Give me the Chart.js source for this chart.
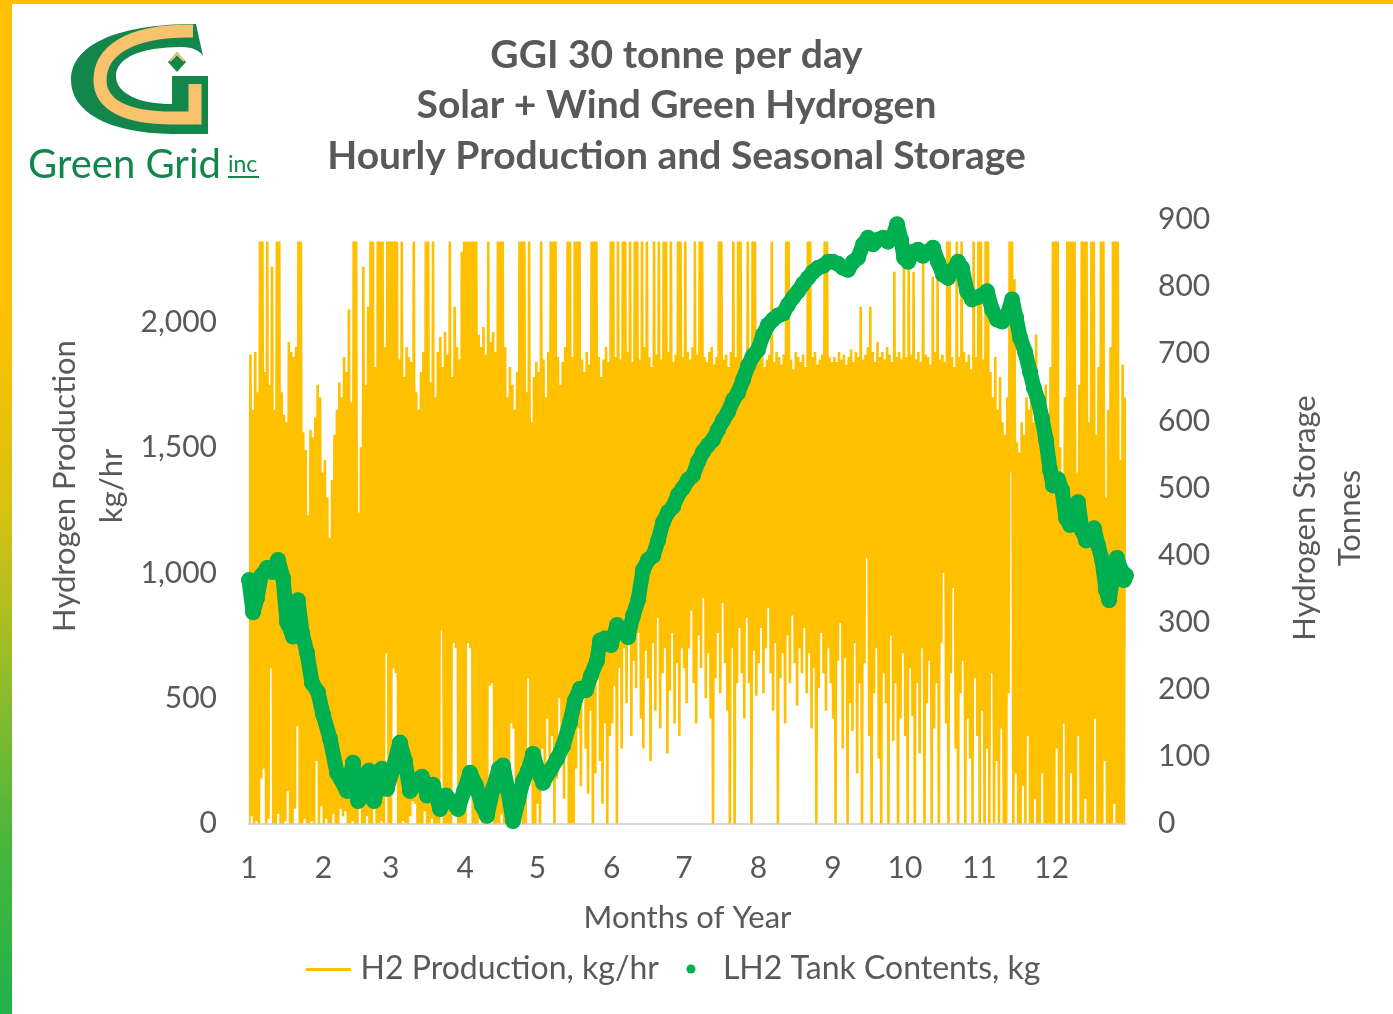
<!DOCTYPE html>
<html>
<head>
<meta charset="utf-8">
<title>GGI 30 tonne per day</title>
<script src="https://cdn.jsdelivr.net/npm/chart.js@4.4.1/dist/chart.umd.min.js"></script>
<style>
  html, body { margin: 0; padding: 0; background: #fff; overflow: hidden; }
  #wrap { position: relative; width: 1393px; height: 1014px; overflow: hidden; background: #fff; }
  #chart { position: absolute; left: -40px; top: 0; }
  #logo { position: absolute; left: 0; top: 0; z-index: 2; }
  .frame-top { position: absolute; left: 0; top: 0; width: 1393px; height: 4px; background: #FFC000; z-index: 3; }
  .frame-left {
    position: absolute; left: 0; top: 0; width: 12px; height: 1014px; z-index: 3;
    background: linear-gradient(to bottom, #FFC000 0%, #FFC000 30%, #D8C210 50%, #8DBB2C 68%, #45B53C 84%, #22B24C 100%);
  }
</style>
</head>
<body>
<div id="wrap">
  <canvas id="chart" width="1433" height="1014"></canvas>

  <!-- Green Grid logo -->
  <svg id="logo" width="300" height="200" viewBox="0 0 300 200">
    <path fill="#13874B" d="M196,24 L203,56 L208,56 L208,134 L172,134 C106,133 71,111 71,80 C71,47 112,24 196,24 Z"/>
    <path fill="none" stroke="#F9C36E" stroke-width="13" d="M193,31 C128,30 100,52 100,80 C100,106 128,118 172,118 L195,118 L195,84"/>
    <path fill="#fff" d="M212,56 L212,76 L172,76 L172,104 C140,104 116,94 116,76 C116,58 140,47 182,47 C193,47 200,51 203,56 Z"/>
    <path fill="#13874B" d="M177,52 L186,62 L177,72 L168,62 Z"/>
    <path fill="none" stroke="#F9C36E" stroke-width="2" d="M170,61 L177,54 L184,61"/>
    <text x="28" y="178" font-family="Lato" font-size="40" fill="#13874B">Green Grid</text>
    <text x="228" y="172" font-family="Lato" font-size="23" fill="#13874B">inc</text>
    <rect x="228" y="176" width="31" height="2" fill="#13874B"/>
  </svg>

  <div class="frame-top"></div>
  <div class="frame-left"></div>
</div>

<script>
/* -------------------------------------------------------
   DATA
------------------------------------------------------- */

// x axis: hour of year, labelled by month number at each month start
const monthStartHours = [0, 744, 1416, 2160, 2880, 3624, 4344, 5088, 5832, 6552, 7296, 8016];
const monthLabels = ["1", "2", "3", "4", "5", "6", "7", "8", "9", "10", "11", "12"];

const productionTicks = [0, 500, 1000, 1500, 2000];   // kg/hr, left axis
const storageTicks = [0, 100, 200, 300, 400, 500, 600, 700, 800, 900];   // tonnes, right axis

// H2 production, kg/hr: daily high (midday) and daily low (night), one value per day
const dailyPeakKg = [
  // Jan
  1870, 1650, 1880, 1720, 2320, 2320, 1800, 2320, 1750, 2220, 1650, 2320, 2320, 1720, 1630, 1600,
  1920, 1880, 1860, 1900, 2320, 2320, 1560, 1490, 1230, 1570, 1540, 1620, 1750, 1700, 1400,
  // Feb
  1450, 1300, 1140, 1370, 1550, 1650, 1760, 1700, 1860, 1800, 2050, 1680, 2320, 2320,
  1240, 1500, 2220, 1750, 2060, 2320, 2320, 1820, 2320, 2320, 2320, 1900, 2320, 2320,
  // Mar
  2320, 2320, 2320, 1850, 2320, 1780, 1900, 1860, 1840, 2320, 1720, 1650, 1800, 1880, 2320, 2320,
  1760, 2320, 1700, 1880, 1940, 1820, 1960, 1870, 2320, 1780, 2060, 1900, 1850, 2280, 2320,
  // Apr
  2320, 2320, 2320, 2320, 2320, 1950, 1900, 1980, 1870, 2320, 1920, 1960, 1880, 2320, 2320,
  2320, 1900, 1700, 1820, 1750, 1650, 1800, 2320, 2320, 2320, 1720, 2320, 1600, 1780, 1840,
  // May
  1800, 2320, 1850, 1700, 1880, 2320, 2320, 2320, 1860, 1750, 1840, 1900, 2320, 2320, 1860, 2320,
  2320, 2320, 1850, 1800, 1880, 1830, 2320, 2320, 2320, 1860, 1780, 1850, 1900, 1840, 2320,
  // Jun
  2320, 1860, 2320, 1850, 2320, 2320, 1880, 2320, 1840, 2320, 2320, 1850, 2320, 1900, 2320,
  1860, 1820, 2320, 1870, 2320, 1850, 2320, 2320, 1880, 2320, 1840, 1870, 2320, 2320, 1860,
  // Jul
  2320, 1880, 1850, 1900, 2320, 1870, 2320, 2320, 1860, 1840, 1880, 1900, 1830, 1860, 2320, 2320,
  1850, 1870, 1820, 1880, 2320, 1860, 2320, 2320, 1840, 1870, 2320, 1880, 2320, 2320, 1850,
  // Aug
  1860, 1880, 1820, 1850, 1870, 2320, 1840, 1880, 1860, 1830, 1870, 2320, 2320, 1850, 1810, 1880,
  1860, 1840, 1870, 1820, 2320, 2320, 1860, 1880, 1830, 1850, 1870, 2320, 2320, 1860, 1840,
  // Sep
  1860, 1840, 1880, 1850, 1870, 1830, 1860, 1890, 1840, 1880, 1860, 2060, 1850, 1870, 1900,
  2060, 1880, 1840, 1920, 1860, 1880, 1850, 1900, 1870, 1840, 2200, 1860, 1880, 1850, 2220,
  // Oct
  1860, 2220, 1870, 2200, 1850, 1880, 1840, 2250, 1870, 1860, 1830, 2180, 1880, 2180, 1850, 1870,
  1840, 2320, 2320, 1860, 1820, 2320, 1860, 2320, 1880, 1840, 1870, 1810, 2320, 1860, 2320,
  // Nov
  2320, 1850, 2320, 2320, 1800, 1700, 1860, 1650, 1780, 1600, 1550, 1700, 2320, 2320, 2170,
  1520, 1480, 1600, 1550, 1700, 1650, 1750, 1600, 1950, 1720, 1580, 1680, 1750, 1600, 1820,
  // Dec
  2320, 2320, 2320, 1500, 1250, 1700, 2320, 2320, 2320, 2320, 1400, 1750, 2320, 2320, 2320, 1600,
  2320, 2320, 1550, 1820, 2320, 2320, 1300, 1650, 1900, 2320, 2320, 2320, 1450, 1830, 1700
];

const dailyLowKg = [
  // Jan
  0, 30, 0, 10, 0, 180, 220, 0, 20, 620, 0, 0, 40, 0, 0, 10,
  130, 0, 0, 60, 390, 0, 0, 20, 0, 0, 10, 0, 250, 0, 70,
  // Feb
  0, 20, 0, 0, 40, 0, 0, 60, 30, 50, 0, 0, 10, 0,
  0, 150, 0, 0, 30, 0, 0, 90, 0, 0, 10, 0, 680, 0,
  // Mar
  0, 620, 600, 0, 0, 10, 0, 0, 30, 90, 80, 0, 0, 0, 50, 0,
  0, 20, 0, 0, 0, 770, 0, 0, 0, 0, 720, 700, 0, 0, 0,
  // Apr
  0, 720, 700, 0, 0, 0, 20, 0, 0, 0, 550, 560, 0, 0, 0,
  40, 0, 0, 0, 400, 380, 0, 0, 10, 0, 0, 580, 300, 0, 0,
  // May
  80, 0, 300, 150, 420, 200, 350, 0, 180, 500, 260, 100, 400, 0, 0, 0,
  220, 380, 150, 560, 300, 120, 450, 0, 200, 600, 250, 80, 400, 0, 350,
  // Jun
  400, 550, 0, 620, 300, 700, 480, 820, 350, 650, 540, 760, 420, 300, 690,
  580, 250, 720, 450, 820, 380, 600, 700, 280, 530, 760, 400, 640, 350, 700,
  // Jul
  620, 480, 700, 850, 560, 400, 750, 620, 900, 500, 680, 420, 0, 580, 760, 520,
  880, 640, 450, 0, 700, 0, 560, 780, 600, 420, 820, 560, 0, 690, 510,
  // Aug
  640, 780, 520, 700, 860, 600, 450, 720, 0, 580, 680, 400, 750, 560, 830, 640,
  470, 700, 600, 780, 520, 680, 380, 620, 0, 540, 760, 600, 450, 700, 560,
  // Sep
  420, 0, 650, 800, 300, 660, 0, 480, 370, 720, 200, 560, 0, 640, 1060,
  350, 0, 520, 700, 260, 0, 600, 480, 0, 750, 330, 560, 0, 420, 680,
  // Oct
  350, 0, 620, 430, 0, 560, 280, 700, 0, 480, 650, 0, 380, 560, 0, 720,
  1000, 400, 0, 600, 940, 300, 0, 520, 650, 0, 420, 260, 0, 580, 350,
  // Nov
  0, 450, 0, 300, 0, 600, 0, 250, 0, 380, 0, 0, 520, 1400, 0,
  200, 0, 0, 150, 0, 350, 0, 0, 100, 0, 0, 200, 0, 0, 0,
  // Dec
  0, 0, 300, 0, 0, 400, 0, 0, 200, 0, 0, 350, 0, 0, 100, 0,
  0, 0, 420, 0, 0, 0, 250, 0, 0, 0, 80, 0, 0, 0, 0
];

// LH2 tank contents (tonnes, right axis)
const tankHour = [
  0, 40, 80, 120, 180, 230, 290, 340, 380, 440, 489, 529, 579, 629, 689, 739,
  809, 879, 979, 1039, 1089, 1149, 1199, 1249, 1289, 1329, 1378, 1438, 1508, 1558, 1608, 1668,
  1728, 1778, 1838, 1908, 1968, 2018, 2088, 2148, 2208, 2268, 2327, 2377, 2437, 2497, 2537, 2587,
  2637, 2687, 2737, 2787, 2837, 2887, 2937, 3007, 3077, 3137, 3206, 3256, 3306, 3366, 3416, 3476,
  3506, 3556, 3616, 3676, 3736, 3786, 3836, 3886, 3936, 3986, 4036, 4086, 4135, 4185, 4235, 4285,
  4335, 4385, 4435, 4485, 4535, 4585, 4635, 4685, 4735, 4785, 4835, 4885, 4934, 4984, 5034, 5084,
  5134, 5184, 5234, 5284, 5334, 5384, 5434, 5484, 5534, 5584, 5634, 5684, 5734, 5784, 5834, 5883,
  5933, 5983, 6033, 6083, 6133, 6183, 6233, 6283, 6333, 6383, 6433, 6473, 6513, 6543, 6583, 6633,
  6683, 6733, 6782, 6832, 6882, 6932, 6982, 7032, 7082, 7122, 7172, 7222, 7272, 7322, 7372, 7422,
  7472, 7522, 7572, 7622, 7662, 7702, 7752, 7801, 7841, 7881, 7921, 7961, 8001, 8031, 8081, 8121,
  8161, 8201, 8241, 8281, 8321, 8361, 8401, 8441, 8481, 8521, 8561, 8591, 8631, 8670, 8710, 8740,
  8760
];
const tankTonnes = [
  363, 315, 336, 369, 381, 375, 393, 366, 300, 279, 333, 285, 255, 210, 196, 163,
  127, 76, 49, 91, 34, 42, 79, 34, 57, 82, 52, 82, 121, 94, 49, 64,
  70, 42, 58, 22, 42, 34, 22, 49, 76, 57, 27, 12, 52, 82, 87, 49,
  4, 34, 64, 79, 104, 79, 61, 79, 97, 116, 151, 184, 201, 199, 221, 243,
  273, 276, 266, 296, 285, 278, 310, 333, 378, 393, 399, 422, 449, 464, 472, 490,
  500, 512, 519, 539, 554, 564, 572, 587, 601, 613, 631, 642, 661, 682, 697, 706,
  728, 743, 751, 757, 760, 773, 784, 793, 804, 813, 822, 828, 831, 837, 837, 834,
  828, 825, 837, 843, 863, 873, 863, 870, 873, 867, 876, 893, 870, 843, 837, 852,
  855, 846, 852, 858, 837, 818, 813, 825, 837, 828, 793, 781, 784, 787, 793, 766,
  751, 748, 757, 781, 754, 724, 703, 673, 649, 631, 604, 572, 527, 504, 513, 497,
  455, 445, 470, 479, 437, 422, 430, 440, 415, 393, 348, 333, 370, 396, 378, 363,
  370
];

/* -------------------------------------------------------
   BUILD POINTS
------------------------------------------------------- */

// low at night, high around midday
const productionPoints = [];
dailyPeakKg.forEach((peak, day) => {
  productionPoints.push({ x: day * 24 + 3, y: dailyLowKg[day] });
  productionPoints.push({ x: day * 24 + 14, y: peak });
});

const tankPoints = tankHour.map((h, i) => ({ x: h, y: tankTonnes[i] }));

/* -------------------------------------------------------
   LEGEND SYMBOLS (short line, small dot)
------------------------------------------------------- */

const YELLOW = "#FFC000";
const GREEN = "#00B050";
const GREY = "#595959";
const FONT = "Lato";

function legendLine() {
  const c = document.createElement("canvas");
  c.width = 45; c.height = 3;
  const g = c.getContext("2d");
  g.fillStyle = YELLOW;
  g.fillRect(0, 0, 45, 3);
  return c;
}

function legendDot() {
  const c = document.createElement("canvas");
  c.width = 10; c.height = 10;
  const g = c.getContext("2d");
  g.fillStyle = GREEN;
  g.beginPath();
  g.arc(5, 5, 4.5, 0, Math.PI * 2);
  g.fill();
  return c;
}

/* -------------------------------------------------------
   AXIS TITLES (both read bottom-to-top, like Excel)
------------------------------------------------------- */

const axisTitles = {
  id: "axisTitles",
  afterDraw(chart) {
    const { ctx, chartArea } = chart;
    const groups = [
      { lines: ["Hydrogen Production", "kg/hr"], x: chartArea.left - 184, y: 486, gap: 47 },
      { lines: ["Hydrogen Storage", "Tonnes"], x: chartArea.right + 179, y: 518, gap: 45 }
    ];
    ctx.save();
    ctx.fillStyle = GREY;
    ctx.font = "31px " + FONT;
    ctx.textAlign = "center";
    ctx.textBaseline = "middle";
    groups.forEach(g => {
      g.lines.forEach((line, i) => {
        ctx.save();
        ctx.translate(g.x + i * g.gap, g.y);
        ctx.rotate(-Math.PI / 2);
        ctx.fillText(line, 0, 0);
        ctx.restore();
      });
    });
    ctx.restore();
  }
};

/* -------------------------------------------------------
   CHART
------------------------------------------------------- */

Chart.defaults.font.family = FONT;
Chart.defaults.color = GREY;

const lineSymbol = legendLine();
const dotSymbol = legendDot();

new Chart(document.getElementById("chart"), {
  type: "line",
  data: {
    datasets: [
      {
        label: "H2 Production, kg/hr",
        data: productionPoints,
        yAxisID: "y",
        borderColor: YELLOW,
        borderWidth: 2.6,
        pointRadius: 0,
        tension: 0,
        order: 1
      },
      {
        label: "LH2 Tank Contents, kg",
        data: tankPoints,
        yAxisID: "y1",
        showLine: true,
        borderColor: GREEN,
        borderWidth: 15,
        borderJoinStyle: "round",
        borderCapStyle: "round",
        tension: 0,
        pointRadius: 8,
        pointHoverRadius: 8,
        pointBackgroundColor: GREEN,
        pointBorderWidth: 0,
        clip: false,
        order: 0
      }
    ]
  },

  options: {
    responsive: false,
    animation: false,
    events: [],
    layout: { padding: { top: 0, bottom: 19, left: 0, right: 0 } },

    plugins: {
      title: {
        display: true,
        text: ["GGI 30 tonne per day", "Solar + Wind Green Hydrogen", "Hourly Production and Seasonal Storage"],
        color: GREY,
        font: { size: 39, weight: "bold", lineHeight: 1.295 },
        padding: { top: 30, bottom: 38 }
      },
      legend: {
        position: "bottom",
        labels: {
          usePointStyle: true,
          boxWidth: 32,
          padding: 16,
          color: GREY,
          font: { size: 32 },
          generateLabels: () => [
            { text: "H2 Production, kg/hr", pointStyle: lineSymbol, strokeStyle: YELLOW, fillStyle: YELLOW, lineWidth: 0, datasetIndex: 0, fontColor: GREY },
            { text: "LH2 Tank Contents, kg", pointStyle: dotSymbol, strokeStyle: GREEN, fillStyle: GREEN, lineWidth: 0, datasetIndex: 1, fontColor: GREY }
          ]
        }
      },
      tooltip: { enabled: false }
    },

    scales: {
      x: {
        type: "linear",
        min: 0,
        max: 8760,
        afterBuildTicks: axis => { axis.ticks = monthStartHours.map(v => ({ value: v })); },
        ticks: {
          autoSkip: false,
          maxRotation: 0,
          padding: 27,
          font: { size: 30 },
          callback: v => monthLabels[monthStartHours.indexOf(v)]
        },
        grid: { display: false, drawTicks: false },
        border: { display: true, color: "#D9D9D9", width: 2 },
        title: {
          display: true,
          text: "Months of Year",
          font: { size: 31 },
          padding: { top: -14, bottom: 0 }
        }
      },
      y: {
        position: "left",
        min: 0,
        max: 2408,
        afterBuildTicks: axis => { axis.ticks = productionTicks.map(v => ({ value: v })); },
        afterFit: axis => { axis.width = 289; },
        ticks: {
          padding: 32,
          font: { size: 30 },
          callback: v => v.toLocaleString("en-US")
        },
        grid: { display: false, drawTicks: false },
        border: { display: false }
      },
      y1: {
        position: "right",
        min: 0,
        max: 900,
        afterBuildTicks: axis => { axis.ticks = storageTicks.map(v => ({ value: v })); },
        afterFit: axis => { axis.width = 267; },
        ticks: { padding: 32, font: { size: 30 } },
        grid: { display: false, drawTicks: false },
        border: { display: false }
      }
    }
  },

  plugins: [axisTitles]
});
</script>
</body>
</html>
